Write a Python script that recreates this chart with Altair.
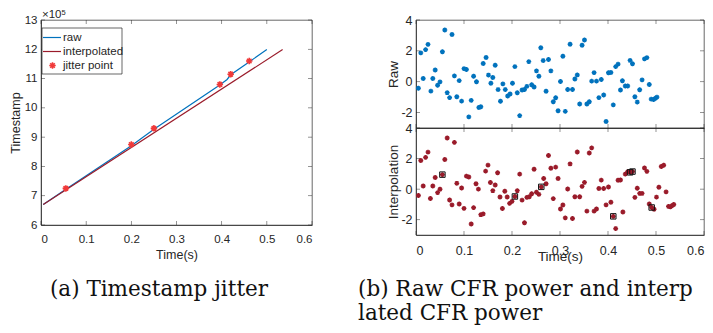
import altair as alt
import pandas as pd

# ---------------- data ----------------
x_ticks = [0, 0.1, 0.2, 0.3, 0.4, 0.5, 0.6]
ts_ticks = [6, 7, 8, 9, 10, 11, 12, 13]
pw_ticks = [-2, 0, 2, 4]

# (a) timestamp (x10^5) vs time
raw_line_t = [0.005, 0.055, 0.200, 0.250, 0.395, 0.412, 0.420, 0.460, 0.500]
raw_line_v = [6.70, 7.22, 8.71, 9.27, 10.77, 10.97, 11.13, 11.56, 11.99]
interp_line_t = [0.005, 0.535]
interp_line_v = [6.70, 11.99]
jit_t = [0.055, 0.200, 0.250, 0.396, 0.420, 0.461]
jit_v = [7.25, 8.75, 9.30, 10.80, 11.15, 11.60]

# (b) raw CFR power samples
raw_t = [0.005, 0.010, 0.015, 0.020, 0.025, 0.031, 0.035, 0.040, 0.045, 0.050,
         0.055, 0.060, 0.065, 0.070, 0.075, 0.080, 0.085, 0.090, 0.095, 0.100,
         0.105, 0.110, 0.115, 0.120, 0.126, 0.131, 0.135, 0.140, 0.146, 0.151,
         0.156, 0.160, 0.165, 0.171, 0.176, 0.181, 0.186, 0.191, 0.196, 0.201,
         0.206, 0.211, 0.216, 0.221, 0.226, 0.231, 0.235, 0.241, 0.246, 0.251,
         0.256, 0.260, 0.265, 0.271, 0.276, 0.281, 0.286, 0.291, 0.296, 0.301,
         0.306, 0.311, 0.316, 0.321, 0.326, 0.331, 0.336, 0.341, 0.346, 0.351,
         0.356, 0.361, 0.366, 0.371, 0.376, 0.381, 0.386, 0.391, 0.396, 0.401,
         0.406, 0.411, 0.416, 0.421, 0.426, 0.430, 0.436, 0.441, 0.446, 0.451,
         0.456, 0.461, 0.466, 0.471, 0.476, 0.481, 0.486, 0.490, 0.495, 0.499,
         0.502]
raw_y = [-0.42, 1.87, 0.21, 2.08, 2.42, -0.61, 0.21, 0.76, -0.23, -0.01,
         1.94, 3.35, -0.71, -1.03, 3.06, 0.38, -0.97, 0.07, -1.26, 0.85,
         0.79, -2.28, -1.21, 0.35, 0.00, -1.67, -1.62, 1.18, 1.57, 0.43,
         -0.10, 0.27, 1.07, -0.51, -1.27, -0.14, -0.51, -0.93, -0.80, -0.10,
         0.98, -0.72, -2.20, -0.54, -0.50, -0.30, 1.30, -0.20, -0.34, 0.70,
         0.35, 2.20, 1.37, -0.62, 1.44, 0.70, -1.30, -1.04, -1.88, 0.01,
         1.65, -1.92, -0.50, 2.43, -0.50, 0.18, 0.44, -1.44, 2.36, 2.70,
         -1.44, -1.30, 0.04, 0.59, 0.04, -1.03, 0.14, -0.86, -2.58, 0.58,
         0.60, -1.50, 0.98, 1.14, -0.54, 0.06, -0.28, -0.28, 1.38, 1.16,
         -0.97, -1.32, -0.52, 0.12, 1.48, 1.56, -0.18, -1.13, -1.15, -1.07,
         -1.00]

# (b) interpolated samples: raw samples plus inserted (boxed) points
interp_t = [0.005, 0.010, 0.015, 0.020, 0.025, 0.030, 0.035, 0.040, 0.045, 0.050,
            0.055, 0.060, 0.065, 0.070, 0.075, 0.080, 0.085, 0.090, 0.095, 0.100,
            0.105, 0.110, 0.115, 0.120, 0.125, 0.130, 0.135, 0.140, 0.145, 0.150,
            0.155, 0.160, 0.165, 0.170, 0.175, 0.180, 0.185, 0.190, 0.195, 0.200,
            0.206, 0.211, 0.216, 0.221, 0.226, 0.231, 0.236, 0.241, 0.246, 0.251,
            0.256, 0.261, 0.266, 0.271, 0.276, 0.281, 0.286, 0.291, 0.296, 0.301,
            0.306, 0.311, 0.316, 0.321, 0.326, 0.331, 0.336, 0.341, 0.346, 0.351,
            0.356, 0.361, 0.366, 0.371, 0.376, 0.381, 0.386, 0.391, 0.396, 0.401,
            0.406, 0.411, 0.416, 0.421, 0.426, 0.431, 0.436, 0.441, 0.446, 0.451,
            0.456, 0.461, 0.466, 0.471, 0.476, 0.481, 0.486, 0.491, 0.496, 0.501,
            0.506, 0.511, 0.516, 0.521, 0.526, 0.530, 0.534, 0.537]
sq_after = [10, 39, 49, 78, 84, 84, 91]
sq_t = [0.055, 0.206, 0.261, 0.411, 0.446, 0.451, 0.491]
sq_y = [0.95, -0.48, 0.15, -1.78, 1.10, 1.15, -1.20]

interp_y = []
j = 0
for k in range(len(raw_y) + 1):
    while j < len(sq_after) and sq_after[j] == k:
        interp_y.append(sq_y[j])
        j += 1
    if k < len(raw_y):
        interp_y.append(raw_y[k])

# ---------------- style ----------------
AX = "#262626"
BLUE = "#0072BD"
DRED = "#9A1B2A"
RED = "#F03A3A"
SANS = "Liberation Sans"
SERIF = "DejaVu Serif"
ASTER = "M0,-1L0,1M-1,0L1,0M-0.7,-0.7L0.7,0.7M-0.7,0.7L0.7,-0.7"
LBL = "'' + datum.value"

one = pd.DataFrame({"a": [0]})

# ---------------- (a) ----------------
W1, H1 = 271, 205
xs1 = alt.Scale(domain=[0, 0.6], nice=False, zero=False)
ys1 = alt.Scale(domain=[6, 13], nice=False, zero=False)
X1 = alt.X("t:Q", scale=xs1, axis=alt.Axis(values=x_ticks, title="Time(s)", labelExpr=LBL,
                                            labelFontSize=11.5, titleFontSize=12.5,
                                            labelPadding=8, titleY=23, titleBaseline="top"))
Y1 = alt.Y("v:Q", scale=ys1, axis=alt.Axis(values=ts_ticks, title="Timestamp", labelExpr=LBL,
                                            labelFontSize=11.5, titleFontSize=12.5,
                                            labelPadding=4, titleX=-32, titleBaseline="top"))

raw_line = alt.Chart(pd.DataFrame({"t": raw_line_t, "v": raw_line_v})).mark_line(
    color=BLUE, strokeWidth=1.2).encode(x=X1, y=Y1)
int_line = alt.Chart(pd.DataFrame({"t": interp_line_t, "v": interp_line_v})).mark_line(
    color=DRED, strokeWidth=1.2).encode(x=X1, y=Y1)
jit = alt.Chart(pd.DataFrame({"t": jit_t, "v": jit_v})).mark_point(
    shape=ASTER, filled=False, color=RED, size=42, strokeWidth=1.6, opacity=1).encode(x=X1, y=Y1)

xt1 = pd.DataFrame({"t": x_ticks})
yt1 = pd.DataFrame({"v": ts_ticks})
tk = dict(color=AX, thickness=0.7, size=4)
ticks1 = [
    alt.Chart(xt1).mark_tick(orient="vertical", **tk).encode(x=X1, y=alt.value(H1 - 2)),
    alt.Chart(xt1).mark_tick(orient="vertical", **tk).encode(x=X1, y=alt.value(2)),
    alt.Chart(yt1).mark_tick(orient="horizontal", **tk).encode(y=Y1, x=alt.value(2)),
    alt.Chart(yt1).mark_tick(orient="horizontal", **tk).encode(y=Y1, x=alt.value(W1 - 2)),
]

expo = alt.Chart(one).mark_text(text="×10", align="left", baseline="alphabetic", fontSize=11.5,
                                font=SANS, color=AX).encode(x=alt.value(1), y=alt.value(-2))
expo5 = alt.Chart(one).mark_text(text="5", align="left", baseline="alphabetic", fontSize=7.5,
                                 font=SANS, color=AX).encode(x=alt.value(20.5), y=alt.value(-5.5))

leg_box = alt.Chart(one).mark_rect(fill="white", stroke=AX, strokeWidth=0.7).encode(
    x=alt.value(1), x2=alt.value(81), y=alt.value(8), y2=alt.value(54))
leg_raw = alt.Chart(one).mark_rule(color=BLUE, strokeWidth=1.2).encode(
    x=alt.value(2), x2=alt.value(20), y=alt.value(17.5))
leg_int = alt.Chart(one).mark_rule(color=DRED, strokeWidth=1.2).encode(
    x=alt.value(2), x2=alt.value(20), y=alt.value(31.5))
leg_pt = alt.Chart(one).mark_point(shape=ASTER, filled=False, color=RED, size=42,
                                   strokeWidth=1.6, opacity=1).encode(
    x=alt.value(11.5), y=alt.value(45.5))
leg_txt = [
    alt.Chart(one).mark_text(text=t, align="left", baseline="middle", fontSize=11.5,
                             font=SANS, color=AX).encode(x=alt.value(22), y=alt.value(yv))
    for t, yv in [("raw", 17.5), ("interpolated", 31.5), ("jitter point", 45.5)]
]
cap_a = alt.Chart(one).mark_text(text="(a) Timestamp jitter", align="center", baseline="alphabetic",
                                 fontSize=21.5, font=SERIF, color="#111111").encode(
    x=alt.value(118), y=alt.value(275.5))

left = alt.layer(raw_line, int_line, jit, *ticks1, expo, expo5,
                 leg_box, leg_raw, leg_int, leg_pt, *leg_txt, cap_a).properties(width=W1, height=H1)

# ---------------- (b) ----------------
W2, H2a, H2b = 288, 108, 107
xs2 = alt.Scale(domain=[0, 0.6], nice=False, zero=False)
ys2 = alt.Scale(domain=[-3, 4], nice=False, zero=False)
X2a = alt.X("t:Q", scale=xs2, axis=alt.Axis(values=x_ticks, labels=False, title=None))
X2b = alt.X("t:Q", scale=xs2, axis=alt.Axis(values=x_ticks, title="Time(s)", labelExpr=LBL,
                                             labelFontSize=12.5, titleFontSize=13.5,
                                             labelPadding=9, titleY=14, titleBaseline="top"))
Y2a = alt.Y("y:Q", scale=ys2, axis=alt.Axis(values=pw_ticks, title="Raw", labelExpr=LBL,
                                             labelFontSize=12.5, titleFontSize=13.5,
                                             labelPadding=4, titleX=-30, titleBaseline="top"))
Y2b = alt.Y("y:Q", scale=ys2, axis=alt.Axis(values=pw_ticks, title="Interpolation", labelExpr=LBL,
                                             labelFontSize=12.5, titleFontSize=13.5,
                                             labelPadding=4, titleX=-30, titleBaseline="top"))

xt2 = pd.DataFrame({"t": x_ticks})
yt2 = pd.DataFrame({"y": pw_ticks})


def panel_ticks(X, Y, H):
    return [
        alt.Chart(xt2).mark_tick(orient="vertical", **tk).encode(x=X, y=alt.value(H - 2)),
        alt.Chart(xt2).mark_tick(orient="vertical", **tk).encode(x=X, y=alt.value(2)),
        alt.Chart(yt2).mark_tick(orient="horizontal", **tk).encode(y=Y, x=alt.value(2)),
        alt.Chart(yt2).mark_tick(orient="horizontal", **tk).encode(y=Y, x=alt.value(W2 - 2)),
    ]


raw_pts = alt.Chart(pd.DataFrame({"t": raw_t, "y": raw_y})).mark_point(
    shape=ASTER, filled=False, color=BLUE, size=24, strokeWidth=1.4, opacity=1).encode(x=X2a, y=Y2a)
top_panel = alt.layer(raw_pts, *panel_ticks(X2a, Y2a, H2a)).properties(width=W2, height=H2a)

int_pts = alt.Chart(pd.DataFrame({"t": interp_t, "y": interp_y})).mark_point(
    shape=ASTER, filled=False, color=DRED, size=24, strokeWidth=1.4, opacity=1).encode(x=X2b, y=Y2b)
sq_pts = alt.Chart(pd.DataFrame({"t": sq_t, "y": sq_y})).mark_point(
    shape="square", filled=False, color="#111111", size=30, strokeWidth=1, opacity=1).encode(x=X2b, y=Y2b)
cap_b1 = alt.Chart(one).mark_text(text="(b) Raw CFR power and interpo-", align="left",
                                  baseline="alphabetic", fontSize=21.5, font=SERIF, color="#111111",
                                  limit=354, ellipsis=" ").encode(x=alt.value(-58), y=alt.value(167.5))
cap_b2 = alt.Chart(one).mark_text(text="lated CFR power", align="left",
                                  baseline="alphabetic", fontSize=21.5, font=SERIF,
                                  color="#111111").encode(x=alt.value(-58), y=alt.value(192))
bot_panel = alt.layer(int_pts, sq_pts, *panel_ticks(X2b, Y2b, H2b), cap_b1, cap_b2).properties(
    width=W2, height=H2b)

right = alt.vconcat(top_panel, bot_panel, spacing=0, bounds="flush")

chart = alt.hconcat(left, right, spacing=104, bounds="flush").properties(
    padding=0, background="white"
).configure_view(stroke=AX, strokeWidth=0.7).configure_axis(
    domainColor=AX, domainWidth=0.7, labelColor=AX, titleColor=AX, ticks=False, tickSize=0,
    grid=False, labelFont=SANS, titleFont=SANS, titleFontWeight="normal"
)

chart.save("out.html", embed_options={"renderer": "svg", "actions": False})
